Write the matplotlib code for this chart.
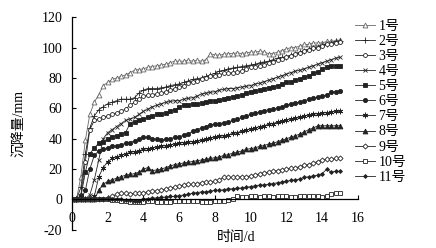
import numpy as np
import matplotlib
matplotlib.use("Agg")
import matplotlib.pyplot as plt

plt.rcParams["font.family"] = ["Liberation Serif", "Noto Sans CJK SC"]
plt.rcParams["axes.unicode_minus"] = False

# time in days, sampled every 0.25 d
days = np.arange(0, 15.25, 0.25)

s1 = [0, 0, 15, 39, 56, 64, 69, 75, 77, 79, 80, 81,
      82, 83.5, 85, 85.5, 86, 87, 87.5, 88, 88.5, 89, 90, 91,
      91, 91, 91.5, 91, 91.5, 91, 92, 96, 95, 95, 95.5, 96,
      96, 96.5, 96, 96.5, 97, 97, 97.5, 97, 96, 96, 97, 98,
      99, 100, 100, 101, 102, 102, 103, 103, 103, 104, 104, 104.5, 105]
s2 = [0, 0, 8, 30, 47, 55, 59, 61, 63, 64, 65, 66,
      66, 66, 67, 70, 72, 73, 73, 73, 73.5, 74, 75, 75.5,
      76, 77, 78, 79, 79.5, 80, 81, 82, 83, 84.5, 85, 86,
      86.5, 87, 87.5, 88, 88.5, 89, 90, 90.5, 91, 92, 93, 93.5,
      94, 95, 96, 97, 98, 99, 100, 100.5, 101.5, 102.5, 103, 104, 104.5]
s3 = [0, 0, 3, 25, 46, 52, 53, 54, 55, 56, 57, 58,
      59.5, 62, 64, 66, 68, 68.5, 69, 69.5, 70, 71, 72, 73,
      74, 75, 76.5, 77, 78, 79, 80, 81, 81.5, 82, 83, 83,
      83.5, 84, 84.5, 86, 87, 87.5, 88, 88.5, 89.5, 90.5, 91.5, 92.5,
      93.5, 94.5, 95.5, 96.5, 97.5, 98.5, 99.5, 100, 101, 102, 102.5, 103, 103.5]
s4 = [0, 0, 0, 0.5, 3, 13, 26, 40, 44, 46, 48, 50,
      52, 53, 54, 56, 58, 59.5, 61, 62, 63, 64, 64.5, 65,
      65, 66, 66.5, 67, 68, 69.5, 70, 70.5, 71, 72, 72.5, 73,
      73, 73.5, 74, 74.5, 75, 76, 76.5, 77.5, 78.5, 79.5, 80.5, 81.5,
      82.5, 83.5, 84.5, 85, 86, 87, 88, 89, 90, 91, 92, 93, 93.5]
s5 = [0, 0, 2, 18, 30, 34, 37, 38, 40, 41, 42, 43,
      44, 50, 51, 52, 53, 54, 55, 56, 56.5, 57, 58, 59,
      61, 62, 62.5, 63, 63, 63.5, 64, 64.5, 65, 65.5, 66, 67,
      67.5, 68, 69, 70, 71, 71.5, 72, 72.5, 73.5, 74, 75, 76,
      77, 77.5, 78.5, 79.5, 80.5, 81.5, 83, 84, 86, 87.5, 88, 88, 88]
s6 = [0, 0, 0, 6, 20, 29, 32, 33, 34, 35, 35.5, 36,
      37, 37.5, 38.5, 39.5, 41, 41, 40, 39.5, 39, 39.5, 40, 41,
      41, 42.5, 43, 45, 46, 47, 48, 49, 49.5, 50, 50.5, 51,
      52, 53, 54, 55, 56, 57, 57.5, 58.5, 59, 59.5, 60, 61,
      62, 63, 63.5, 64, 65, 66, 66.5, 67.5, 68, 69, 70.5, 71, 71.5]
s7 = [0, 0, 0, 0, 0, 2, 15, 21, 25, 27, 28, 29,
      30, 31, 31.5, 32, 33, 33.5, 34, 34.5, 35, 35.5, 36, 36.5,
      37, 37.5, 38, 38, 38.5, 39, 40, 40.5, 41, 41.5, 42, 42.5,
      43.5, 44, 45, 45.5, 46.5, 47, 48, 48.5, 49.5, 50, 51, 51.5,
      52.5, 53, 53.5, 54, 55, 55.5, 56, 56.5, 57, 57, 57.5, 58, 58]
s8 = [0, 0, 0, 0, 0, 0, 6, 10, 12, 13, 14, 15,
      16, 16.5, 17, 18, 20, 21, 19, 19.5, 20, 21, 22, 23,
      23.5, 24, 24.5, 25, 25.5, 26, 26.5, 27, 27.5, 28, 29, 29.5,
      30.5, 31, 32, 33, 33.5, 34, 35, 35.5, 36.5, 37, 38, 39,
      40, 41, 42, 43, 44.5, 46, 47, 48.5, 48.5, 48.5, 48.5, 48.5, 48.5]
s9 = [0, 0, 0, 0, 0, 0, 0, 0.5, 1, 2, 3.5, 4,
      4, 3.5, 4, 4.5, 4.5, 5, 5.5, 5.5, 6, 7, 7.5, 8,
      9, 9.5, 10, 10, 10.5, 11, 11.5, 11.5, 12, 12.5, 15, 14.5,
      14.5, 14.5, 15, 15, 15.5, 16, 17, 17.5, 18, 18.5, 19, 19.5,
      20, 20.5, 21, 21.5, 22.5, 23, 24, 25, 26, 26.5, 26.5, 27, 27]
s10 = [0, 0, 0, 0, 0, 0, 0, 0, 0, -0.5, -0.5, -1,
       -1, -1.5, -1.5, -1.5, -1.5, -1, -1, -1.5, -1.5, -1.5, -1.5, -1,
       -1, -1, -1, -1, -1, -1.5, -1.5, -1.5, -1, -1, -1, -0.5,
       0, 2, 1.5, 1.5, 2, 2, 1.5, 2, 2, 1.5, 2, 2,
       2, 1.5, 1.5, 2, 2, 2, 2, 2.5, 1.5, 2, 3.5, 4, 4]
s11 = [0, 0, 0, 0, 0, 0, 0, 0, 0, 0, 0, 0,
       -0.5, -0.5, -1, -1, 0.5, 0.5, 1, 1, 1.5, 1.5, 2, 2,
       2.5, 3, 3.5, 4, 4.5, 5, 5, 5.5, 6, 6, 6.5, 7,
       7, 7.5, 7.5, 8, 8.5, 9, 9.5, 9.5, 10, 10.5, 11, 11.5,
       12, 12.5, 13, 13.5, 14.5, 15, 15.5, 16, 17, 20, 18, 18.5, 18.5]

series = [s1, s2, s3, s4, s5, s6, s7, s8, s9, s10, s11]
labels = ["1号", "2号", "3号", "4号", "5号", "6号", "7号", "8号", "9号", "10号", "11号"]

# marker, marker size, face colour (None = same as line)
styles = [
    ("^", 3.5, "white"),
    ("+", 4.5, None),
    ("o", 2.8, "white"),
    ("x", 3.2, None),
    ("s", 2.2, None),
    ("o", 3.0, None),
    ((6, 2, 0), 4.0, None),
    ("^", 3.5, None),
    ("D", 2.6, "white"),
    ("s", 2.6, "white"),
    ("D", 2.0, None),
]

fig = plt.figure(figsize=(4.36, 2.48), dpi=100)
ax = fig.add_axes([0.165, 0.073, 0.656, 0.858])

line_col = "#222222"
for y, lab, (mk, ms, fc) in zip(series, labels, styles):
    col = "#666666" if lab == "1号" else line_col
    ax.plot(days, y, color=col, lw=0.6, marker=mk, ms=ms,
            mfc=fc if fc else col, mec=col, mew=0.6, label=lab)

ax.set_xlim(0, 16)
ax.set_ylim(-20, 120)
ax.set_xticks(range(0, 17, 2))
ax.set_yticks(range(-20, 121, 20))

ax.spines["top"].set_visible(False)
ax.spines["right"].set_visible(False)
ax.spines["bottom"].set_position(("data", 0))
ax.spines["left"].set_linewidth(0.9)
ax.spines["bottom"].set_linewidth(0.9)
ax.tick_params(axis="x", direction="in", length=3, width=0.8, pad=9, labelsize=10)
ax.tick_params(axis="y", direction="in", length=3, width=0.8, pad=7, labelsize=10)

ax.set_ylabel("沉降量/mm", fontsize=10, labelpad=12)
ax.set_xlabel("时间/d", fontsize=10)
ax.xaxis.set_label_coords(0.573, -0.005)

fig.legend(loc="upper left", bbox_to_anchor=(0.815, 0.92), frameon=False,
           fontsize=10, labelspacing=0.15, handlelength=1.45,
           handletextpad=0.2, borderpad=0, borderaxespad=0)

fig.savefig("out.png", dpi=100)
